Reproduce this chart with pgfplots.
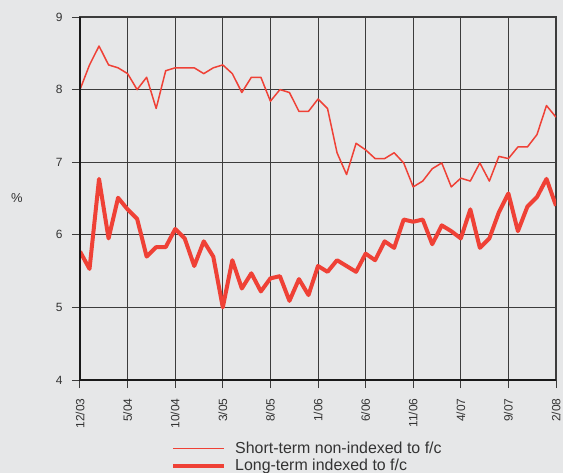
\documentclass[border=0pt]{standalone}
\usepackage{fontspec}
\setmainfont{Liberation Sans}
\usepackage{pgfplots}
\pgfplotsset{compat=1.18}
\definecolor{bg}{RGB}{230,231,232}
\definecolor{rd}{RGB}{239,65,54}
\definecolor{gr}{RGB}{60,60,60}
\begin{document}
\begin{tikzpicture}
\fill[bg] (-80bp,-93bp) rectangle (483bp,380bp);
\begin{axis}[
  at={(0,0)}, anchor=south west,
  scale only axis, width=476bp, height=363bp,
  xmin=0, xmax=50, ymin=4, ymax=9,
  xtick={0,5,...,50},
  xticklabels={12/03,5/04,10/04,3/05,8/05,1/06,6/06,11/06,4/07,9/07,2/08},
  ytick={4,5,6,7,8,9},
  /pgf/number format/assume math mode=true,
  tick label style={font=\fontsize{12}{14}\selectfont, text=black!80},
  x tick label style={rotate=90, anchor=east},
  xticklabel shift=7bp,
  yticklabel shift=6bp,
  tick align=outside, tickpos=left,
  major tick length=8bp,
  every tick/.style={gr, line width=1bp},
  grid=major,
  major grid style={gr, line width=1bp},
  axis line style={gr, line width=1.3bp},
  ylabel={\%},
  ylabel style={rotate=-90, font=\fontsize{13}{15}\selectfont, text=black!80, at={(axis description cs:0,0.5)}, anchor=center, xshift=-63bp},
  legend style={draw=none, fill=none, font=\fontsize{16}{18}\selectfont, text=black!80,
    at={(91bp,-60bp)}, anchor=north west, legend cell align=left,
    row sep=0bp, inner sep=0bp,
    /tikz/every odd column/.append style={column sep=7bp}},
  legend image code/.code={\draw[#1] (0bp,0bp) -- (51bp,0bp);},
  after end axis/.code={\draw[black!90, line width=2bp] (rel axis cs:0,1) -- (rel axis cs:0,0) -- (rel axis cs:1,0);},
]
\addplot[rd, line width=1.5bp, line join=round] coordinates {
(0,8.00)(1,8.34)(2,8.60)(3,8.34)(4,8.30)(5,8.22)(6,8.00)(7,8.17)(8,7.74)(9,8.26)
(10,8.30)(11,8.30)(12,8.30)(13,8.22)(14,8.30)(15,8.34)(16,8.22)(17,7.96)(18,8.17)(19,8.17)
(20,7.84)(21,8.00)(22,7.96)(23,7.70)(24,7.70)(25,7.87)(26,7.74)(27,7.13)(28,6.83)(29,7.26)
(30,7.17)(31,7.05)(32,7.05)(33,7.13)(34,6.99)(35,6.66)(36,6.74)(37,6.91)(38,6.99)(39,6.66)
(40,6.78)(41,6.74)(42,6.99)(43,6.74)(44,7.08)(45,7.05)(46,7.21)(47,7.21)(48,7.38)(49,7.78)
(50,7.62)};
\addlegendentry{Short-term non-indexed to f/c}
\addplot[rd, line width=4bp, line join=round] coordinates {
(0,5.77)(1,5.53)(2,6.77)(3,5.95)(4,6.51)(5,6.35)(6,6.22)(7,5.70)(8,5.83)(9,5.83)
(10,6.08)(11,5.95)(12,5.57)(13,5.91)(14,5.70)(15,5.00)(16,5.65)(17,5.26)(18,5.47)(19,5.22)
(20,5.40)(21,5.43)(22,5.09)(23,5.39)(24,5.17)(25,5.57)(26,5.49)(27,5.65)(28,5.57)(29,5.49)
(30,5.74)(31,5.65)(32,5.91)(33,5.82)(34,6.21)(35,6.18)(36,6.21)(37,5.87)(38,6.13)(39,6.05)
(40,5.95)(41,6.35)(42,5.82)(43,5.95)(44,6.31)(45,6.57)(46,6.05)(47,6.39)(48,6.52)(49,6.77)
(50,6.40)};
\addlegendentry{Long-term indexed to f/c}
\end{axis}
\pgfresetboundingbox
\useasboundingbox (-80bp,-93bp) rectangle (483bp,380bp);
\end{tikzpicture}
\end{document}
